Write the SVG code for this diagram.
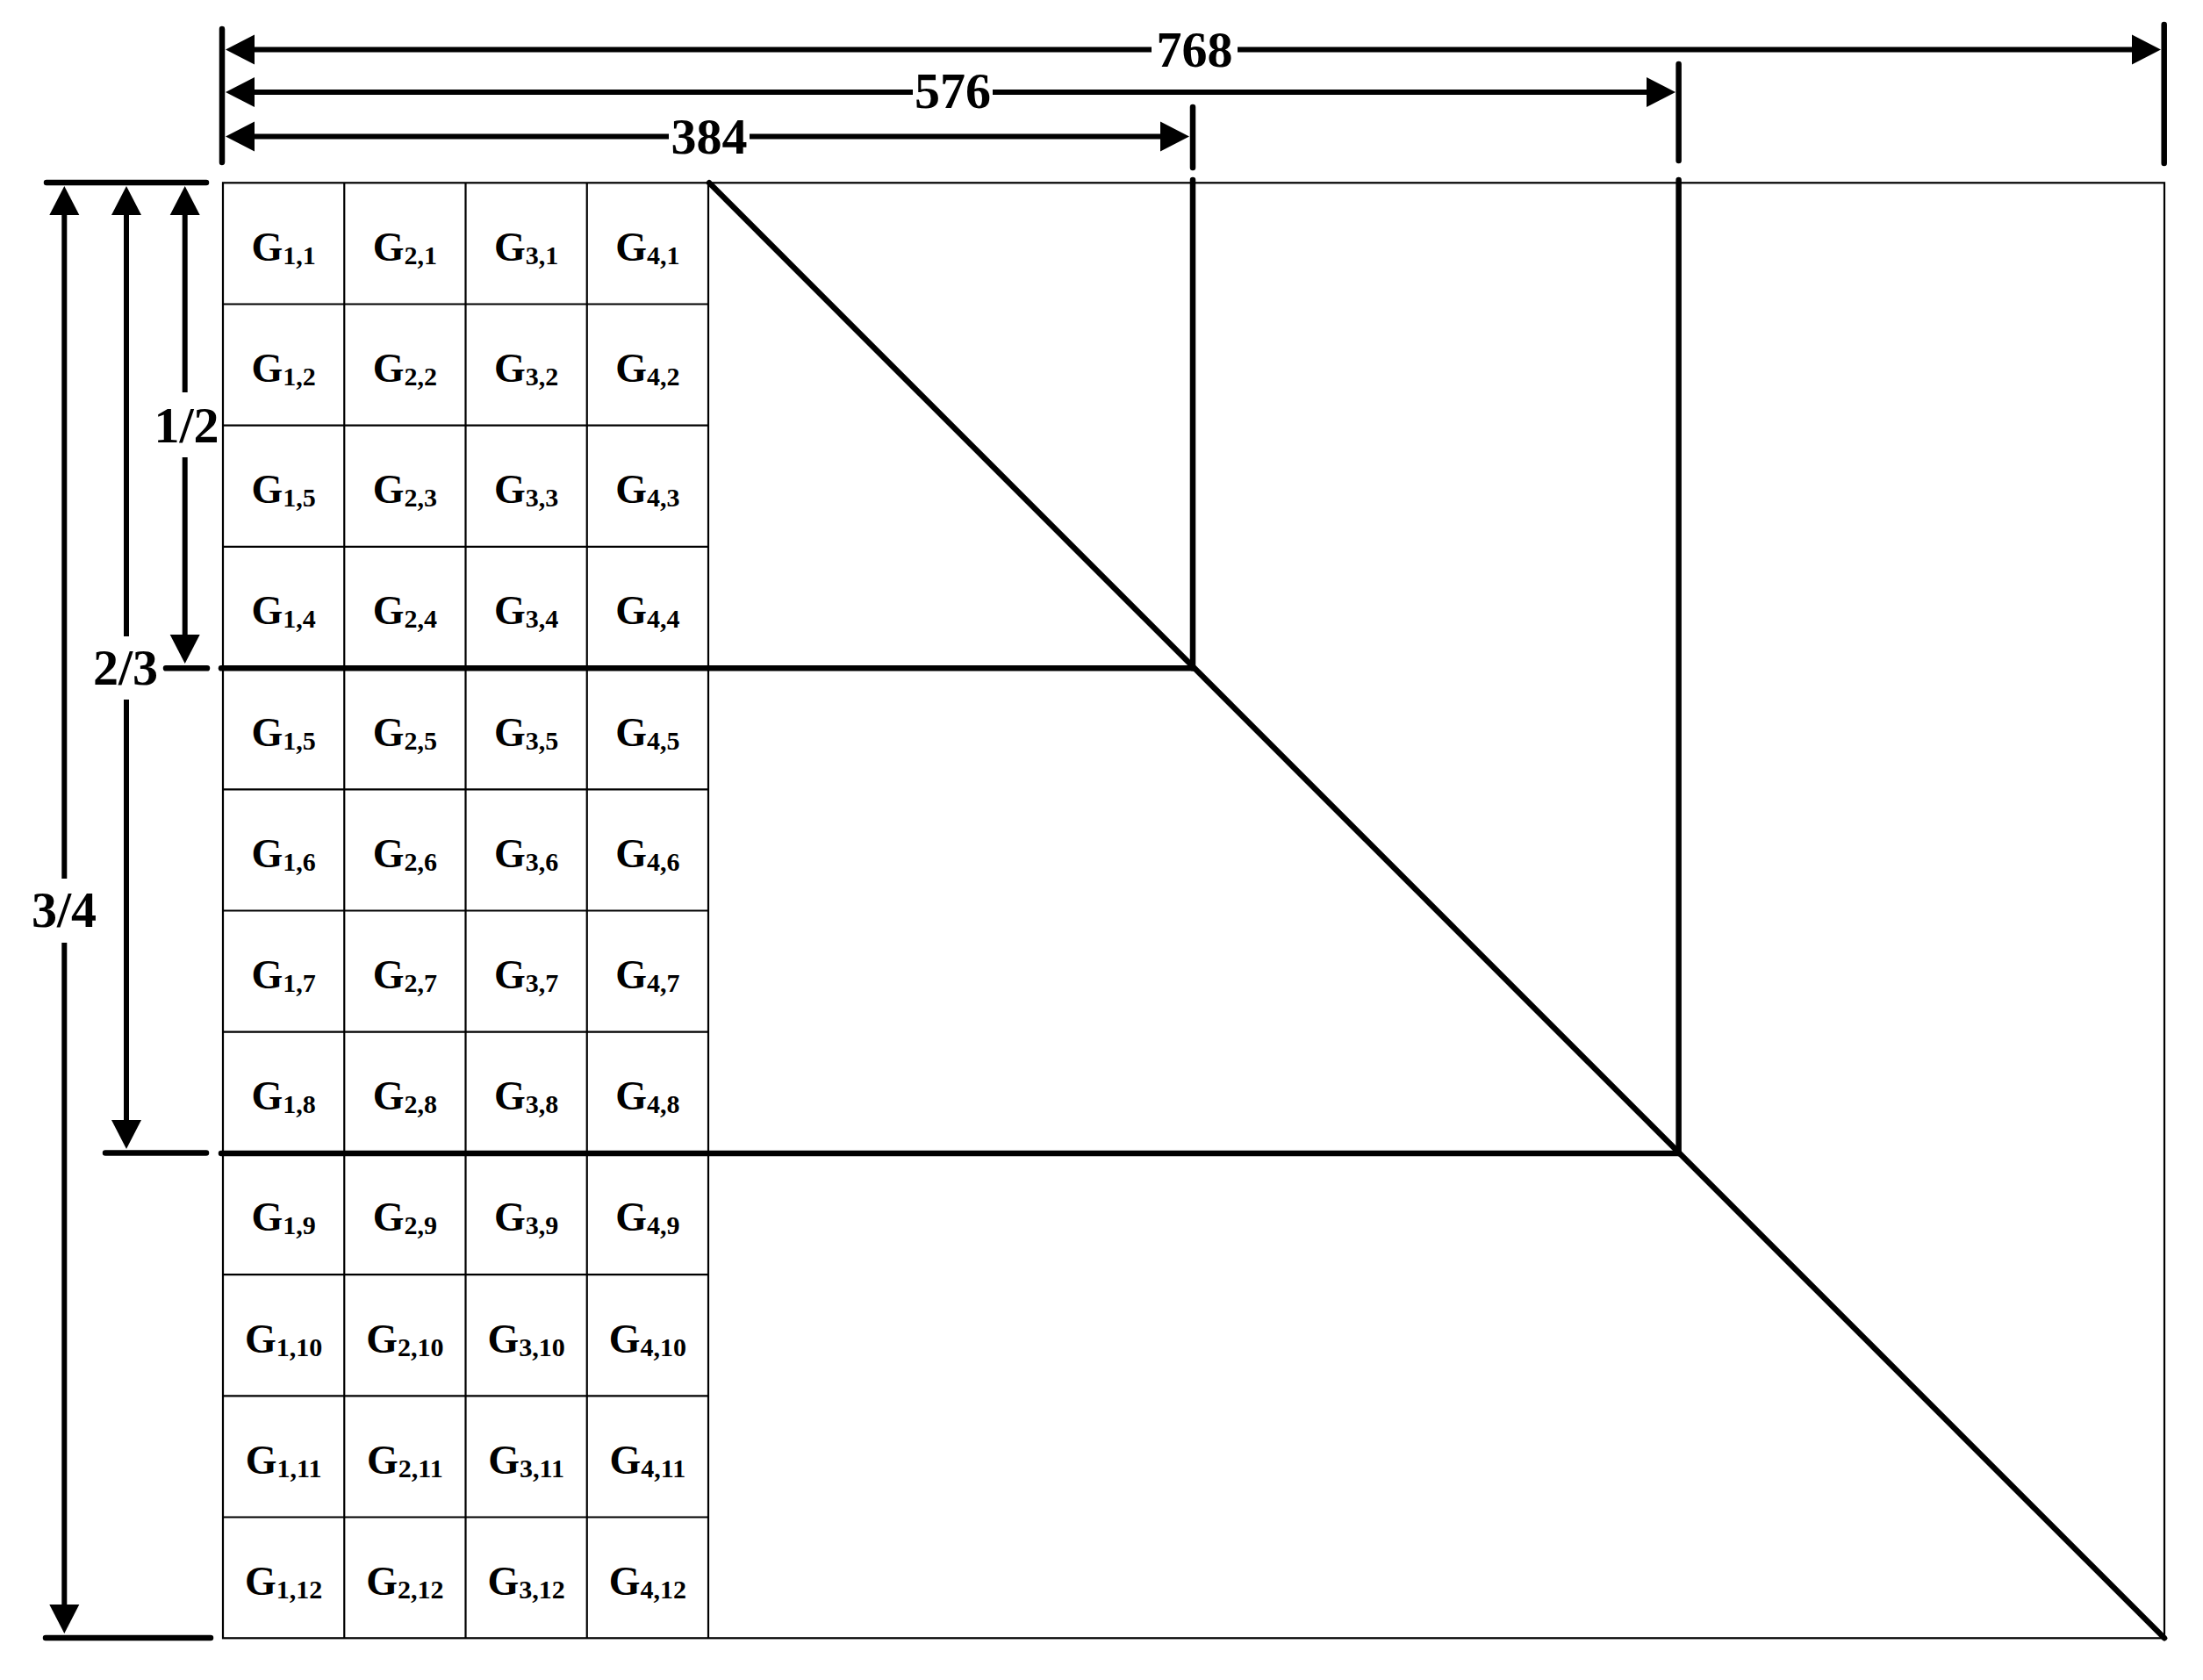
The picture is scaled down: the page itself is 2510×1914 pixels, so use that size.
<svg xmlns="http://www.w3.org/2000/svg" width="2510" height="1914" viewBox="0 0 2510 1914">
<style>
text{font-family:"Liberation Serif","Times New Roman",serif;font-weight:bold;fill:#000}
.lbl{font-size:46px;text-anchor:middle}
.sub{font-size:30px}
.dim{font-size:58px;text-anchor:middle}
.thin{stroke:#000;stroke-width:2.2;fill:none}
.thick{stroke:#000;stroke-width:6.5;fill:none;stroke-linecap:round}
.dl{stroke:#000;stroke-width:6;fill:none}
.tick{stroke:#000;stroke-width:6.5;fill:none;stroke-linecap:round}
</style>
<defs>
<marker id="arr" markerUnits="userSpaceOnUse" markerWidth="40" markerHeight="40" viewBox="0 -20 40 40" refX="1" refY="0" orient="auto-start-reverse" overflow="visible">
<path d="M0,-17 L33,0 L0,17 Z" fill="#000"/>
</marker>
</defs>
<rect width="2510" height="1914" fill="#fff"/>
<g id="frame">
<rect class="thin" x="254" y="208.3" width="2212" height="1658"/>
<path class="thin" d="M392.25,208.3V1866.3M530.5,208.3V1866.3M668.75,208.3V1866.3M807,208.3V1866.3"/>
<path class="thin" d="M254,346.5H807M254,484.7H807M254,622.9H807M254,899.3H807M254,1037.5H807M254,1175.7H807M254,1452.1H807M254,1590.3H807M254,1728.5H807"/>
</g>
<g id="partitions">
<path class="thick" d="M252,761.3H1359"/>
<path class="thick" d="M252,1314H1912.6"/>
<path class="thick" d="M1359,205V761.3"/>
<path class="thick" d="M1912.6,205V1314"/>
<path class="thick" d="M808,208.3L2466,1866.3"/>
</g>
<g id="connectors">
<path class="tick" d="M253,33V185M1359,122V191M1912.6,73V183M2465.7,28V186"/>
<path class="dl" d="M289,56.5H1312" marker-start="url(#arr)"/>
<path class="dl" d="M1410,56.5H2430" marker-end="url(#arr)"/>
<path class="dl" d="M289,105H1040" marker-start="url(#arr)"/>
<path class="dl" d="M1131,105H1877" marker-end="url(#arr)"/>
<path class="dl" d="M289,155.5H762" marker-start="url(#arr)"/>
<path class="dl" d="M854,155.5H1323" marker-end="url(#arr)"/>
<path class="tick" d="M53,208H235M189,761.3H236M120,1313.5H235M52,1866H240"/>
<path class="dl" d="M210.7,244V447" marker-start="url(#arr)"/>
<path class="dl" d="M210.7,521V724" marker-end="url(#arr)"/>
<path class="dl" d="M144,244V725" marker-start="url(#arr)"/>
<path class="dl" d="M144,797V1277" marker-end="url(#arr)"/>
<path class="dl" d="M73.3,244V1001" marker-start="url(#arr)"/>
<path class="dl" d="M73.3,1074V1829" marker-end="url(#arr)"/>
</g>
<g id="dim-labels">
<text class="dim" x="1361" y="76">768</text>
<text class="dim" x="1085.5" y="123">576</text>
<text class="dim" x="808" y="175">384</text>
<text class="dim" x="212.5" y="504">1/2</text>
<text class="dim" x="143" y="780">2/3</text>
<text class="dim" x="73" y="1056">3/4</text>
</g>
<g id="cells">
<g id="r1"><text class="lbl" x="323.1" y="296.8">G<tspan class="sub" dy="4">1,1</tspan></text><text class="lbl" x="461.4" y="296.8">G<tspan class="sub" dy="4">2,1</tspan></text><text class="lbl" x="599.6" y="296.8">G<tspan class="sub" dy="4">3,1</tspan></text><text class="lbl" x="737.9" y="296.8">G<tspan class="sub" dy="4">4,1</tspan></text></g>
<g id="r2"><text class="lbl" x="323.1" y="435">G<tspan class="sub" dy="4">1,2</tspan></text><text class="lbl" x="461.4" y="435">G<tspan class="sub" dy="4">2,2</tspan></text><text class="lbl" x="599.6" y="435">G<tspan class="sub" dy="4">3,2</tspan></text><text class="lbl" x="737.9" y="435">G<tspan class="sub" dy="4">4,2</tspan></text></g>
<g id="r3"><text class="lbl" x="323.1" y="573.2">G<tspan class="sub" dy="4">1,5</tspan></text><text class="lbl" x="461.4" y="573.2">G<tspan class="sub" dy="4">2,3</tspan></text><text class="lbl" x="599.6" y="573.2">G<tspan class="sub" dy="4">3,3</tspan></text><text class="lbl" x="737.9" y="573.2">G<tspan class="sub" dy="4">4,3</tspan></text></g>
<g id="r4"><text class="lbl" x="323.1" y="711.4">G<tspan class="sub" dy="4">1,4</tspan></text><text class="lbl" x="461.4" y="711.4">G<tspan class="sub" dy="4">2,4</tspan></text><text class="lbl" x="599.6" y="711.4">G<tspan class="sub" dy="4">3,4</tspan></text><text class="lbl" x="737.9" y="711.4">G<tspan class="sub" dy="4">4,4</tspan></text></g>
<g id="r5"><text class="lbl" x="323.1" y="849.6">G<tspan class="sub" dy="4">1,5</tspan></text><text class="lbl" x="461.4" y="849.6">G<tspan class="sub" dy="4">2,5</tspan></text><text class="lbl" x="599.6" y="849.6">G<tspan class="sub" dy="4">3,5</tspan></text><text class="lbl" x="737.9" y="849.6">G<tspan class="sub" dy="4">4,5</tspan></text></g>
<g id="r6"><text class="lbl" x="323.1" y="987.8">G<tspan class="sub" dy="4">1,6</tspan></text><text class="lbl" x="461.4" y="987.8">G<tspan class="sub" dy="4">2,6</tspan></text><text class="lbl" x="599.6" y="987.8">G<tspan class="sub" dy="4">3,6</tspan></text><text class="lbl" x="737.9" y="987.8">G<tspan class="sub" dy="4">4,6</tspan></text></g>
<g id="r7"><text class="lbl" x="323.1" y="1126">G<tspan class="sub" dy="4">1,7</tspan></text><text class="lbl" x="461.4" y="1126">G<tspan class="sub" dy="4">2,7</tspan></text><text class="lbl" x="599.6" y="1126">G<tspan class="sub" dy="4">3,7</tspan></text><text class="lbl" x="737.9" y="1126">G<tspan class="sub" dy="4">4,7</tspan></text></g>
<g id="r8"><text class="lbl" x="323.1" y="1264.2">G<tspan class="sub" dy="4">1,8</tspan></text><text class="lbl" x="461.4" y="1264.2">G<tspan class="sub" dy="4">2,8</tspan></text><text class="lbl" x="599.6" y="1264.2">G<tspan class="sub" dy="4">3,8</tspan></text><text class="lbl" x="737.9" y="1264.2">G<tspan class="sub" dy="4">4,8</tspan></text></g>
<g id="r9"><text class="lbl" x="323.1" y="1402.4">G<tspan class="sub" dy="4">1,9</tspan></text><text class="lbl" x="461.4" y="1402.4">G<tspan class="sub" dy="4">2,9</tspan></text><text class="lbl" x="599.6" y="1402.4">G<tspan class="sub" dy="4">3,9</tspan></text><text class="lbl" x="737.9" y="1402.4">G<tspan class="sub" dy="4">4,9</tspan></text></g>
<g id="r10"><text class="lbl" x="323.1" y="1540.6">G<tspan class="sub" dy="4">1,10</tspan></text><text class="lbl" x="461.4" y="1540.6">G<tspan class="sub" dy="4">2,10</tspan></text><text class="lbl" x="599.6" y="1540.6">G<tspan class="sub" dy="4">3,10</tspan></text><text class="lbl" x="737.9" y="1540.6">G<tspan class="sub" dy="4">4,10</tspan></text></g>
<g id="r11"><text class="lbl" x="323.1" y="1678.8">G<tspan class="sub" dy="4">1,11</tspan></text><text class="lbl" x="461.4" y="1678.8">G<tspan class="sub" dy="4">2,11</tspan></text><text class="lbl" x="599.6" y="1678.8">G<tspan class="sub" dy="4">3,11</tspan></text><text class="lbl" x="737.9" y="1678.8">G<tspan class="sub" dy="4">4,11</tspan></text></g>
<g id="r12"><text class="lbl" x="323.1" y="1817">G<tspan class="sub" dy="4">1,12</tspan></text><text class="lbl" x="461.4" y="1817">G<tspan class="sub" dy="4">2,12</tspan></text><text class="lbl" x="599.6" y="1817">G<tspan class="sub" dy="4">3,12</tspan></text><text class="lbl" x="737.9" y="1817">G<tspan class="sub" dy="4">4,12</tspan></text></g>
</g>
</svg>
